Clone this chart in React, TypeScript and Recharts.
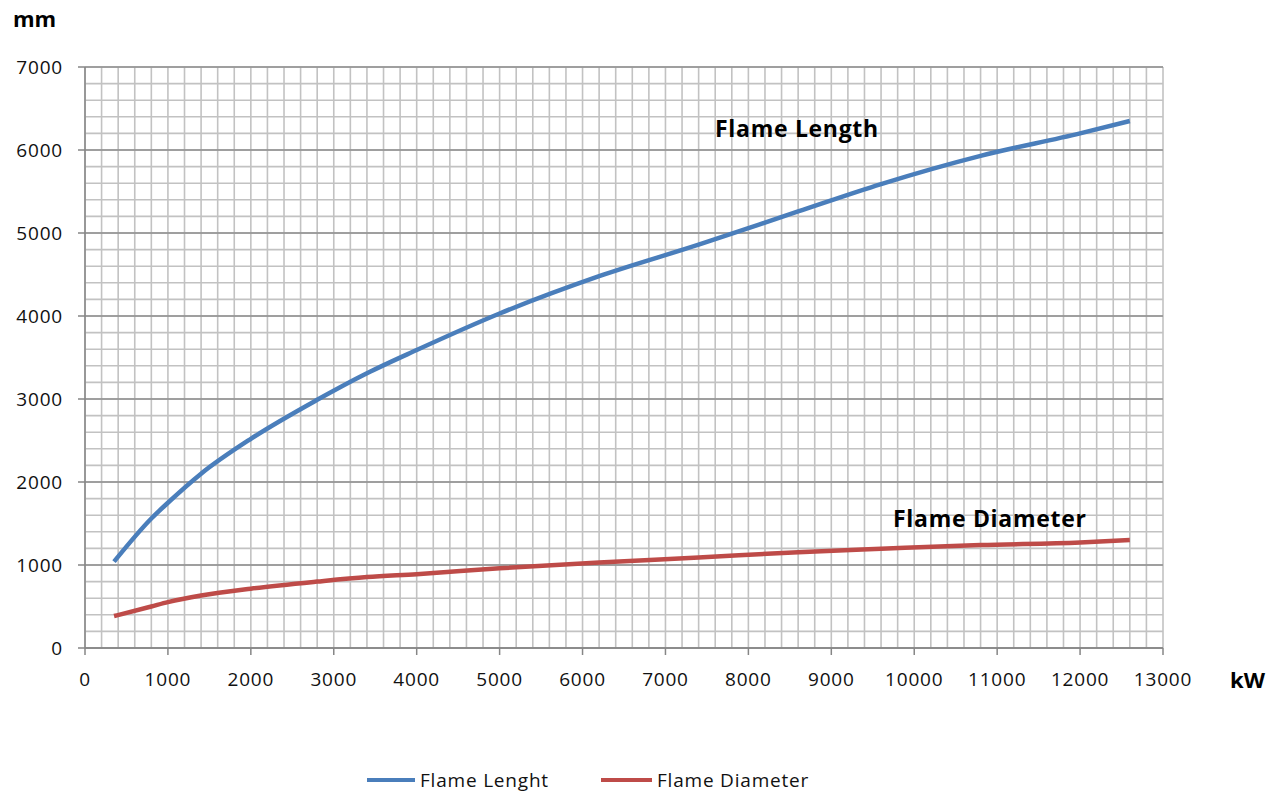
import React from "react";
import {
  CartesianGrid,
  Legend,
  Line,
  LineChart,
  XAxis,
  YAxis,
} from "recharts";

// kW values
const power = [350, 800, 1000, 1400, 2000, 2800, 3400, 4000, 5000, 6200, 7400, 8600, 9600, 10800, 12000, 12600];
// mm
const flameLength = [1040, 1560, 1750, 2100, 2520, 2990, 3310, 3590, 4030, 4480, 4860, 5260, 5590, 5930, 6200, 6350];
const flameDiameter = [385, 500, 552, 632, 715, 800, 855, 890, 960, 1030, 1090, 1155, 1195, 1240, 1270, 1300];

const xTicks = [0, 1000, 2000, 3000, 4000, 5000, 6000, 7000, 8000, 9000, 10000, 11000, 12000, 13000];
const yTicks = [0, 1000, 2000, 3000, 4000, 5000, 6000, 7000];
const X_MAX = 13000;
const Y_MAX = 7000;
const minorStep = 200;
const xMinor = Array.from({ length: X_MAX / minorStep + 1 }, (_, i) => i * minorStep);
const yMinor = Array.from({ length: Y_MAX / minorStep + 1 }, (_, i) => i * minorStep);

const data = power.map((kw, i) => ({
  kw,
  length: flameLength[i],
  diameter: flameDiameter[i],
}));

const BLUE = "#4a7ebb";
const RED = "#be4b48";
const FONT = "'Open Sans', sans-serif";
const TEXT = "#111";

const tickStyle = { fontSize: 19, fill: TEXT, fontFamily: FONT, letterSpacing: 0.8 };

const boldText: React.CSSProperties = {
  position: "absolute",
  fontFamily: FONT,
  fontWeight: 700,
  fontSize: 22,
  lineHeight: "22px",
  color: "#000",
  whiteSpace: "nowrap",
};

// run a value through the axis scale, whatever shape recharts hands it over in
function project(axis: any, v: number, fallback: () => number) {
  const s = axis?.scale;
  if (typeof s === "function") return s(v);
  if (s && typeof s.map === "function") return s.map(v);
  return fallback();
}

const minorX = ({ xAxis, offset }: any) =>
  xMinor.map((v) => project(xAxis, v, () => offset.left + (v / X_MAX) * offset.width));
const minorY = ({ yAxis, offset }: any) =>
  yMinor.map((v) => project(yAxis, v, () => offset.top + (1 - v / Y_MAX) * offset.height));

function LegendContent() {
  const items = [
    { name: "Flame Lenght", color: BLUE, gap: 0, w: 48 },
    { name: "Flame Diameter", color: RED, gap: 52, w: 51 },
  ];
  return (
    <div style={{ display: "flex", alignItems: "center", paddingLeft: 367, fontFamily: FONT, lineHeight: "20px" }}>
      {items.map((it) => (
        <div key={it.name} style={{ display: "flex", alignItems: "center", marginLeft: it.gap }}>
          <div style={{ width: it.w, height: 4, background: it.color, marginRight: 5 }} />
          <span style={{ fontSize: 19, color: TEXT, letterSpacing: 0.8 }}>{it.name}</span>
        </div>
      ))}
    </div>
  );
}

export default function App() {
  return (
    <div style={{ position: "absolute", left: 0, top: 0, width: 1285, height: 791, background: "#fff" }}>
      <LineChart
        width={1285}
        height={791}
        data={data}
        margin={{ top: 67, right: 122, bottom: 103, left: 0 }}
      >
        <CartesianGrid
          stroke="#c2c2c2"
          strokeWidth={1.6}
          verticalCoordinatesGenerator={minorX}
          horizontalCoordinatesGenerator={minorY}
        />
        <CartesianGrid vertical={false} stroke="#8e8e8e" strokeWidth={1.5} />
        <XAxis
          dataKey="kw"
          type="number"
          domain={[0, X_MAX]}
          ticks={xTicks}
          interval={0}
          height={40}
          tickSize={7}
          tickMargin={18}
          tick={tickStyle}
          axisLine={{ stroke: "#868686", strokeWidth: 1.5 }}
          tickLine={{ stroke: "#868686", strokeWidth: 1.5 }}
        />
        <YAxis
          type="number"
          domain={[0, Y_MAX]}
          ticks={yTicks}
          interval={0}
          width={85}
          tickSize={7}
          tickMargin={15}
          tick={tickStyle}
          axisLine={{ stroke: "#868686", strokeWidth: 1.5 }}
          tickLine={{ stroke: "#868686", strokeWidth: 1.5 }}
        />
        <Line
          dataKey="length"
          name="Flame Lenght"
          type="monotone"
          stroke={BLUE}
          strokeWidth={4.5}
          dot={false}
          isAnimationActive={false}
        />
        <Line
          dataKey="diameter"
          name="Flame Diameter"
          type="monotone"
          stroke={RED}
          strokeWidth={4.5}
          dot={false}
          isAnimationActive={false}
        />
        <Legend
          layout="horizontal"
          verticalAlign="middle"
          content={<LegendContent />}
          wrapperStyle={{ left: 0, top: 770, width: 1285 }}
        />
      </LineChart>
      <div style={{ ...boldText, left: 13, top: 7 }}>mm</div>
      <div style={{ ...boldText, left: 1230, top: 668 }}>kW</div>
      <div style={{ ...boldText, fontSize: 23, letterSpacing: 0.7, left: 715, top: 117 }}>Flame Length</div>
      <div style={{ ...boldText, fontSize: 23, letterSpacing: 0.7, left: 893, top: 507 }}>Flame Diameter</div>
    </div>
  );
}
